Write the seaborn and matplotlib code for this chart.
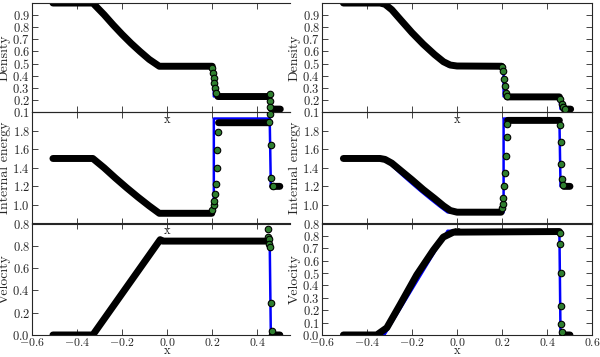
import numpy as np
import seaborn as sns
import matplotlib
matplotlib.use("Agg")
import matplotlib.pyplot as plt
import matplotlib.transforms as mtransforms
from matplotlib.ticker import FuncFormatter

# ==========================================
# DATA
# ==========================================

nan = np.nan

# analytic solution (blue line), shared by both columns
ana_x = [-0.5, -0.323, -0.28, -0.24, -0.20, -0.16, -0.12, -0.08, -0.042,
         0.207, 0.207, 0.455, 0.46, 0.5]
ana_rho = [1.0, 1.0, 0.904, 0.820, 0.741, 0.667, 0.599, 0.535, 0.48,
           0.48, 0.229, 0.229, 0.125, 0.125]
ana_e = [1.5, 1.5, 1.402, 1.313, 1.228, 1.145, 1.066, 0.989, 0.92,
         0.92, 1.93, 1.93, 1.2, 1.2]
ana_u = [0.0, 0.0, 0.128, 0.248, 0.368, 0.488, 0.608, 0.728, 0.841,
         0.841, 0.841, 0.841, 0.0, 0.0]

# left column: dense particle bands (black)
l_rho_x = [-0.507, -0.33, -0.28, -0.24, -0.20, -0.16, -0.12, -0.08, -0.035, 0.2,
           nan, 0.225, 0.452, nan, 0.462, 0.502]
l_rho_y = [1.0, 1.0, 0.904, 0.82, 0.741, 0.667, 0.599, 0.535, 0.478, 0.478,
           nan, 0.228, 0.228, nan, 0.124, 0.124]
l_e_x = [-0.507, -0.33, -0.28, -0.23, -0.18, -0.13, -0.08, -0.035, 0.198,
         nan, 0.228, 0.448, nan, 0.468, 0.5]
l_e_y = [1.5, 1.5, 1.40, 1.29, 1.185, 1.085, 0.99, 0.91, 0.91,
         nan, 1.885, 1.885, nan, 1.2, 1.2]
l_u_x = [-0.507, -0.33, -0.031, -0.02, 0.447, nan, 0.466, 0.5]
l_u_y = [0.0, 0.0, 0.855, 0.842, 0.842, nan, 0.0, 0.0]

# left column: sparse particles (green)
l_rho_gx = [0.201, 0.204, 0.207, 0.210, 0.213, 0.216, 0.455, 0.458, 0.458]
l_rho_gy = [0.465, 0.424, 0.383, 0.342, 0.300, 0.260, 0.247, 0.187, 0.138]
l_e_gx = [0.200, 0.206, 0.209, 0.213, 0.216, 0.221, 0.222, 0.227,
          0.450, 0.455, 0.461, 0.461, 0.468]
l_e_gy = [0.945, 1.0, 1.044, 1.117, 1.226, 1.40, 1.594, 1.78,
          1.89, 1.977, 1.649, 1.292, 1.20]
l_u_gx = [0.447, 0.447, 0.450, 0.452, 0.455, 0.461, 0.463]
l_u_gy = [0.953, 0.88, 0.865, 0.82, 0.785, 0.287, 0.038]

# right column: dense particle bands (black)
r_rho_x = [-0.505, -0.342, -0.32, -0.29, -0.25, -0.20, -0.15, -0.10, -0.06, -0.03,
           0.0, 0.199, nan, 0.222, 0.455, nan, 0.475, 0.505]
r_rho_y = [1.0, 1.0, 0.99, 0.945, 0.86, 0.755, 0.66, 0.575, 0.515, 0.488,
           0.48, 0.478, nan, 0.225, 0.225, nan, 0.124, 0.124]
r_e_x = [-0.505, -0.342, -0.32, -0.29, -0.25, -0.20, -0.15, -0.10, -0.06, -0.03,
         0.0, 0.196, nan, 0.225, 0.455, nan, 0.475, 0.502]
r_e_y = [1.5, 1.5, 1.49, 1.45, 1.37, 1.27, 1.165, 1.07, 0.99, 0.94,
         0.922, 0.922, nan, 1.91, 1.91, nan, 1.2, 1.2]
r_u_x = [-0.505, -0.357, -0.312, -0.253, -0.179, -0.105, -0.061, -0.016, 0.455,
         nan, 0.47, 0.502]
r_u_y = [0.0, 0.0, 0.058, 0.245, 0.485, 0.685, 0.79, 0.83, 0.835,
         nan, 0.0, 0.0]

# right column: sparse particles (green)
r_rho_gx = [0.200, 0.206, 0.209, 0.213, 0.218, 0.220, 0.459, 0.465, 0.470, 0.480]
r_rho_gy = [0.470, 0.437, 0.369, 0.315, 0.261, 0.233, 0.206, 0.165, 0.138, 0.124]
r_e_gx = [0.199, 0.203, 0.205, 0.209, 0.213, 0.218, 0.220, 0.223,
          0.458, 0.462, 0.462, 0.465, 0.472]
r_e_gy = [0.964, 1.008, 1.08, 1.20, 1.346, 1.53, 1.73, 1.875,
          1.855, 1.674, 1.437, 1.281, 1.212]
r_u_gx = [0.458, 0.459, 0.460, 0.462, 0.464, 0.466]
r_u_gy = [0.826, 0.733, 0.504, 0.237, 0.085, 0.027]

ylabels = ["Density", "Internal energy", "Velocity"]

# ==========================================
# STYLE
# ==========================================

sns.set_style("ticks")
plt.rcParams["font.family"] = ["cmr10", "DejaVu Serif"]
plt.rcParams["mathtext.fontset"] = "cm"
plt.rcParams["mathtext.rm"] = "cmr10"
plt.rcParams["font.size"] = 9
plt.rcParams["axes.linewidth"] = 0.8

GREEN = "#2f7f2f"


def tex_fmt(v, pos):
    return r"$\mathrm{%.1f}$" % (0.0 if abs(v) < 1e-9 else v)


fig = plt.figure(figsize=(6.0, 3.57), dpi=100)

rows_b = [0.6862, 0.3739, 0.0617]
rows_h = [0.3053, 0.3123, 0.3123]
cols = [(0.0533, 0.43), (0.5367, 0.45)]

left_data = [
    (l_rho_x, l_rho_y, l_rho_gx, l_rho_gy, ana_rho),
    (l_e_x, l_e_y, l_e_gx, l_e_gy, ana_e),
    (l_u_x, l_u_y, l_u_gx, l_u_gy, ana_u),
]
right_data = [
    (r_rho_x, r_rho_y, r_rho_gx, r_rho_gy, ana_rho),
    (r_e_x, r_e_y, r_e_gx, r_e_gy, ana_e),
    (r_u_x, r_u_y, r_u_gx, r_u_gy, ana_u),
]

ylims = {
    0: [(0.1, 1.0), (0.1, 1.0)],
    1: [(0.8, 2.0), (0.8, 2.0)],
    2: [(0.0, 1.0), (0.0, 0.9)],
}
yticks = {
    0: [np.arange(0.1, 0.95, 0.1), np.arange(0.1, 0.95, 0.1)],
    1: [np.arange(0.8, 1.85, 0.2), np.arange(0.8, 1.85, 0.2)],
    2: [np.arange(0.0, 0.85, 0.2), np.arange(0.0, 0.85, 0.1)],
}

for c, (cl, cw) in enumerate(cols):
    data = left_data if c == 0 else right_data
    for r in range(3):
        ax = fig.add_axes([cl, rows_b[r], cw, rows_h[r]])
        ax.set_facecolor("none")
        bx, by, gx, gy, ana = data[r]

        sns.lineplot(x=ana_x, y=ana, color="blue", lw=1.8,
                     estimator=None, sort=False, ax=ax, zorder=1)
        ax.plot(bx, by, color="black", lw=5, solid_capstyle="round",
                solid_joinstyle="round", zorder=2)
        sns.scatterplot(x=gx, y=gy, color=GREEN, edgecolor="black",
                        linewidth=0.8, s=22, ax=ax, zorder=3)

        if c == 0:
            ax.set_xlim(-0.6, 0.545)
            ax.set_xticks(np.arange(-0.6, 0.45, 0.2))
            ax.spines["right"].set_visible(False)
            ax.tick_params(right=False)
            xlab_pos = 0.6 / 1.145
        else:
            ax.set_xlim(-0.6, 0.6)
            ax.set_xticks(np.arange(-0.6, 0.65, 0.2))
            ax.tick_params(right=True)
            xlab_pos = 0.5

        ax.set_ylim(*ylims[r][c])
        ax.set_yticks(yticks[r][c])
        ax.yaxis.set_major_formatter(FuncFormatter(tex_fmt))
        ax.xaxis.set_major_formatter(FuncFormatter(tex_fmt))
        ax.tick_params(direction="in", top=True, length=4, width=0.6,
                       labelsize=9, pad=1.5)
        ax.tick_params(axis="x", pad=0.5, labelsize=8.5)
        ax.set_ylabel(ylabels[r], fontsize=10, labelpad=1)
        ax.set_xlabel("x", fontsize=9)
        if r < 2:
            ax.tick_params(labelbottom=False)
            ax.xaxis.set_label_coords(xlab_pos, -0.015)
            ax.xaxis.label.set_va("top")
        else:
            tr = mtransforms.blended_transform_factory(ax.transAxes,
                                                       fig.transFigure)
            ax.xaxis.set_label_coords(xlab_pos, 0.0, transform=tr)
            ax.xaxis.label.set_va("bottom")

plt.savefig("out.png", dpi=100)
